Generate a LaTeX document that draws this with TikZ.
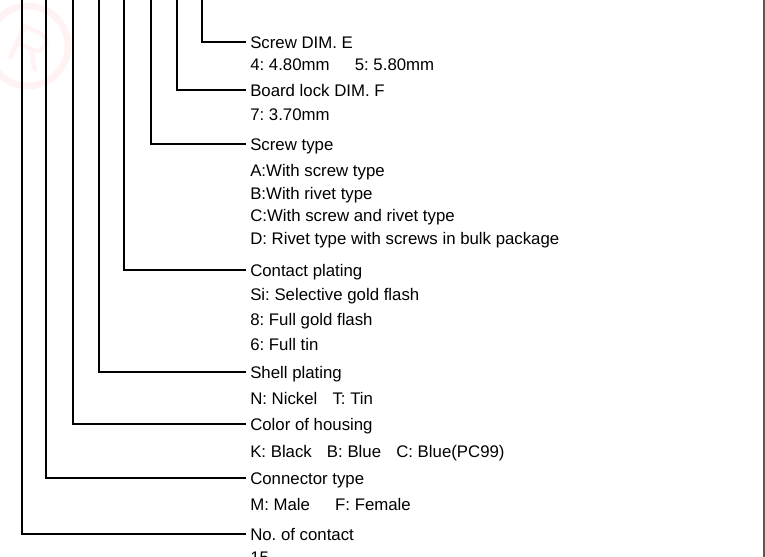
\documentclass[tikz,border=0pt]{standalone}
\usepackage{fontspec}
\setmainfont{Liberation Sans}
\usetikzlibrary{positioning}
\frenchspacing

\begin{document}
\begin{tikzpicture}
            [x=0.75pt,y=-0.75pt,
            lead/.style={line width=1.5pt},
            head/.style={anchor=west,inner xsep=3pt,inner ysep=0pt,
                text height=9pt,text depth=0pt,font=\fontsize{12.6}{15}\selectfont},
            opt/.style={anchor=west,inner sep=0pt,
                text height=9pt,text depth=0pt,font=\fontsize{12.6}{15}\selectfont}]
            \useasboundingbox (0,0) rectangle (765,557);
            % faint mark in the corner
            \draw[red!5,line width=5pt] (28,46) circle (40);
            \node[red!5,rotate=-25,font=\fontsize{42}{42}\selectfont] (mark) at (30,48) {R};
            % frame edge
            \draw[black!65,line width=1.2pt] (764,0) -- (764,557);
            % free ends at the top
            \coordinate (t1) at (22,0);
            \coordinate (t2) at (46,0);
            \coordinate (t3) at (73,0);
            \coordinate (t4) at (99,0);
            \coordinate (t5) at (124,0);
            \coordinate (t6) at (151,0);
            \coordinate (t7) at (177,0);
            \coordinate (t8) at (202,0);
            % headings
            \node[head] (dimE) at (246,42) {Screw DIM. E};
            \node[head] (dimF) at (246,90) {Board lock DIM. F};
            \node[head] (stype) at (246,144) {Screw type};
            \node[head] (cplat) at (246,270) {Contact plating};
            \node[head] (splat) at (246,372) {Shell plating};
            \node[head] (color) at (246,424) {Color of housing};
            \node[head] (ctype) at (246,478) {Connector type};
            \node[head] (nocon) at (246,534) {No. of contact};
            % options
            \node[opt] (dimEo) at (250,64) {4: 4.80mm\hspace{1.5em}5: 5.80mm};
            \node[opt] (dimFo) at (250,114) {7: 3.70mm};
            \node[opt] (stA) at (250,170) {A:With screw type};
            \node[opt] (stB) at (250,193) {B:With rivet type};
            \node[opt] (stC) at (250,215) {C:With screw and rivet type};
            \node[opt] (stD) at (250,238) {D: Rivet type with screws in bulk package};
            \node[opt] (cpS) at (250,294) {Si: Selective gold flash};
            \node[opt] (cp8) at (250,319) {8: Full gold flash};
            \node[opt] (cp6) at (250,344) {6: Full tin};
            \node[opt] (spo) at (250,398) {N: Nickel\hspace{0.9em}T: Tin};
            \node[opt] (colo) at (250,451) {K: Black\hspace{0.9em}B: Blue\hspace{0.9em}C: Blue(PC99)};
            \node[opt] (cto) at (250,504) {M: Male\hspace{1.5em}F: Female};
            \node[opt] (noo) at (250,557) {15};
            % leaders
            \draw[lead] (t8) |- (dimE.west);
            \draw[lead] (t7) |- (dimF.west);
            \draw[lead] (t6) |- (stype.west);
            \draw[lead] (t5) |- (cplat.west);
            \draw[lead] (t4) |- (splat.west);
            \draw[lead] (t3) |- (color.west);
            \draw[lead] (t2) |- (ctype.west);
            \draw[lead] (t1) |- (nocon.west);
        \end{tikzpicture}
\end{document}
